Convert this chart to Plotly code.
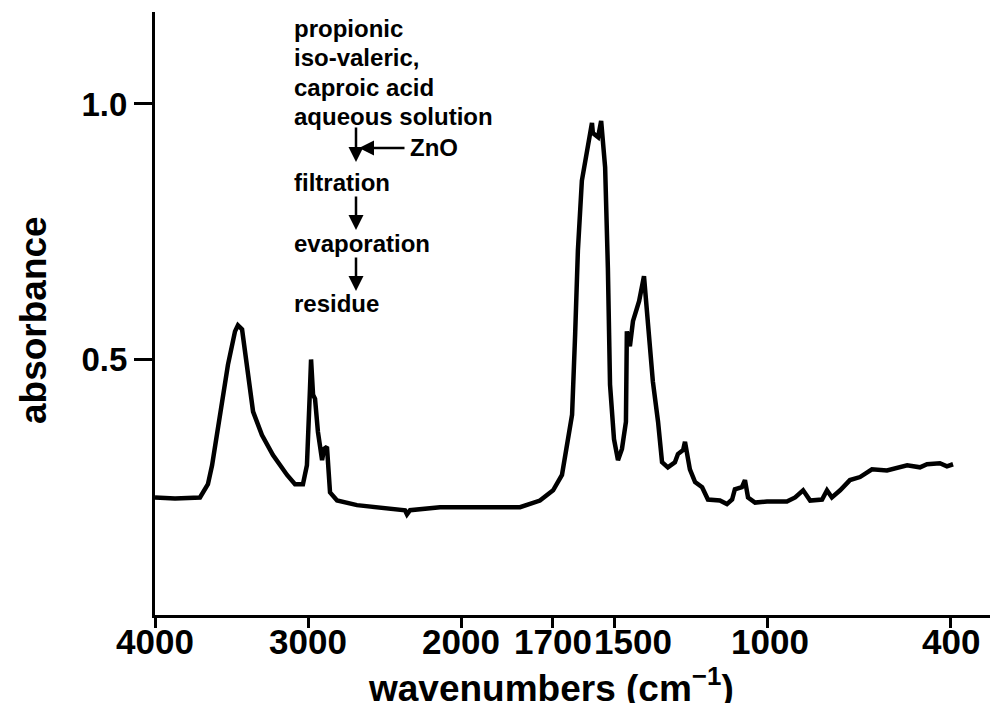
import plotly.graph_objects as go

# IR spectrum (wavenumber in cm-1, absorbance)
wavenumbers = [4000, 3869, 3706, 3654, 3627, 3575, 3523, 3477, 3458, 3431, 3399, 3359,
               3301, 3229, 3137, 3085, 3033, 3007, 2987, 2980, 2967, 2954, 2935, 2908,
               2895, 2876, 2856, 2810, 2680, 2464, 2366, 2353, 2333, 2137, 1938, 1807,
               1742, 1699, 1670, 1654, 1637, 1627, 1618, 1605, 1588, 1572, 1569, 1552,
               1542, 1529, 1520, 1513, 1500, 1487, 1474, 1461, 1458, 1448, 1438, 1418,
               1402, 1389, 1373, 1356, 1343, 1324, 1301, 1291, 1274, 1268, 1252, 1235,
               1212, 1193, 1154, 1131, 1114, 1105, 1082, 1072, 1062, 1039, 1000, 935,
               908, 882, 859, 820, 804, 788, 761, 729, 696, 657, 608, 542, 500, 477,
               435, 412, 392]
absorbance = [0.230, 0.228, 0.230, 0.256, 0.293, 0.398, 0.490, 0.555, 0.567, 0.559, 0.482, 0.398,
              0.352, 0.313, 0.274, 0.256, 0.256, 0.293, 0.443, 0.500, 0.431, 0.423, 0.358, 0.303,
              0.325, 0.329, 0.240, 0.224, 0.215, 0.207, 0.205, 0.197, 0.205, 0.211, 0.211, 0.211,
              0.224, 0.244, 0.274, 0.333, 0.392, 0.549, 0.713, 0.850, 0.915, 0.963, 0.943, 0.935,
              0.967, 0.876, 0.679, 0.451, 0.344, 0.303, 0.325, 0.378, 0.555, 0.526, 0.575, 0.614,
              0.663, 0.561, 0.457, 0.378, 0.299, 0.289, 0.299, 0.315, 0.323, 0.339, 0.285, 0.260,
              0.250, 0.226, 0.224, 0.217, 0.226, 0.246, 0.250, 0.264, 0.230, 0.220, 0.222, 0.222,
              0.230, 0.244, 0.224, 0.226, 0.244, 0.230, 0.244, 0.264, 0.270, 0.285, 0.283, 0.293,
              0.289, 0.295, 0.297, 0.291, 0.295]

x_tick_values = [4000, 3000, 2000, 1700, 1500, 1000, 400]
x_tick_labels = ["4000", "3000", "2000", "1700", "1500", "1000", "400"]
y_tick_values = [0.5, 1.0]
y_tick_labels = ["0.5", "1.0"]

flow_lines = ["propionic", "iso-valeric,", "caproic acid", "aqueous solution",
              "filtration", "evaporation", "residue"]


def axis_pos(w):
    # IR spectrometer scale: scale doubles below 2000 cm-1
    return 4000 - w if w >= 2000 else 2000 + 2 * (2000 - w)


FONT = "Liberation Sans, Arial, Helvetica, sans-serif"

fig = go.Figure()
fig.add_trace(go.Scatter(
    x=[axis_pos(w) for w in wavenumbers], y=absorbance, mode="lines",
    line=dict(color="black", width=4.5, shape="linear"), hoverinfo="skip",
    showlegend=False))

W, H = 991, 703
L, R, T, B = 155, 1, 12, 88
pw, ph = W - L - R, H - T - B


def px(x):
    return (x - L) / pw


def py(y):
    return (H - B - y) / ph


fig.update_layout(
    width=W, height=H, margin=dict(l=L, r=R, t=T, b=B, autoexpand=False),
    paper_bgcolor="white", plot_bgcolor="white",
    font=dict(family=FONT, color="black"),
    xaxis=dict(range=[0, (990 - 155) / 0.153], tickvals=[axis_pos(v) for v in x_tick_values],
               showticklabels=False, showgrid=False, zeroline=False, showline=True,
               linecolor="black", linewidth=3, ticks="outside", ticklen=10, tickwidth=3,
               tickcolor="black", automargin=False),
    yaxis=dict(range=[0, 1.18], tickvals=y_tick_values, ticktext=y_tick_labels,
               showgrid=False, zeroline=False, showline=True, linecolor="black",
               linewidth=3, ticks="outside", ticklen=18, tickwidth=3, tickcolor="black",
               automargin=False,
               tickfont=dict(size=33, family=FONT, weight="bold")),
)

# x tick labels (the 1500 label sits a little right of its tick in the original)
label_shift = {"1500": 19, "1000": 3}
for v, lab in zip(x_tick_values, x_tick_labels):
    fig.add_annotation(x=axis_pos(v), y=py(641), xref="x", yref="paper", text=lab,
                       showarrow=False, xanchor="center", yanchor="middle",
                       xshift=label_shift.get(lab, 0),
                       font=dict(size=35, family=FONT, color="black", weight="bold"))

ann_font = dict(size=24, family=FONT, color="black", weight="bold")
line_y = [29, 58, 88, 117, 182, 243, 303]
for txt, yy in zip(flow_lines, line_y):
    fig.add_annotation(x=px(292), y=py(yy), xref="paper", yref="paper", text=txt,
                       showarrow=False, xanchor="left", yanchor="middle", font=ann_font)
fig.add_annotation(x=px(408), y=py(148), xref="paper", yref="paper", text="ZnO",
                   showarrow=False, xanchor="left", yanchor="middle", font=ann_font)

# arrows of the flow chart
arrows = [((356, 162), (0, -36)), ((356, 230), (0, -35)), ((356, 291), (0, -35)),
          ((359, 148), (47, 0))]
for (hx, hy), (dx, dy) in arrows:
    fig.add_annotation(x=px(hx), y=py(hy), xref="paper", yref="paper", text="",
                       showarrow=True, ax=dx, ay=dy, arrowhead=2, arrowsize=1.2,
                       arrowwidth=2.5, arrowcolor="black", standoff=0, startstandoff=0)

# axis titles
fig.add_annotation(x=px(33), y=py(320), xref="paper", yref="paper", text="absorbance",
                   textangle=-90, showarrow=False, xanchor="center", yanchor="middle",
                   font=dict(size=37, family=FONT, color="black", weight="bold"))
fig.add_annotation(x=px(551), y=py(685), xref="paper", yref="paper",
                   text="wavenumbers (cm<sup>−1</sup>)",
                   showarrow=False, xanchor="center", yanchor="middle",
                   font=dict(size=37, family=FONT, color="black", weight="bold"))

fig.write_html("out.html", config={"displayModeBar": False},
               post_script="document.body.style.margin='0';document.body.style.padding='0';")
